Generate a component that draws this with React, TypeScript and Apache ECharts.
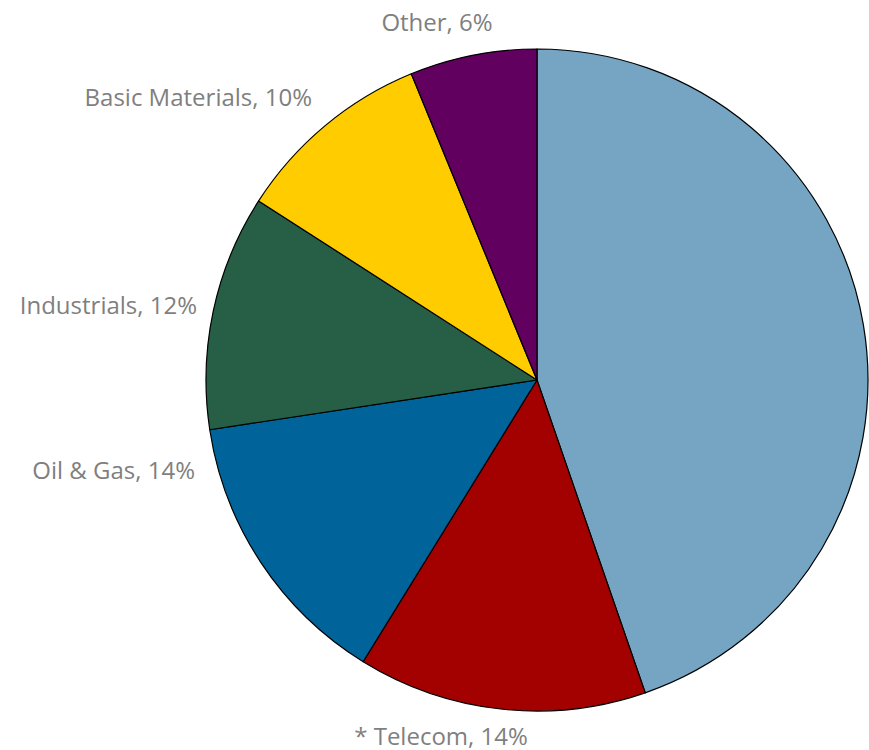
import React, { useEffect, useRef } from "react";
import * as echarts from "echarts";

const categories = ["Financials", "* Telecom", "Oil & Gas", "Industrials", "Basic Materials", "Other"];
const values = [44.7, 14.1, 13.8, 11.5, 9.7, 6.2];
const percentLabels = ["45%", "14%", "14%", "12%", "10%", "6%"];
const showLabel = [false, true, true, true, true, true];
const colors = ["#75A5C2", "#A30000", "#00639A", "#265F45", "#FFCC00", "#620060"];
// label anchor positions (layout only)
const labelPos: Array<[number, number, "left" | "center" | "right"]> = [
  [900, 380, "left"],
  [441, 735, "center"],
  [195, 469, "right"],
  [197, 304, "right"],
  [312, 96, "right"],
  [437, 21, "center"],
];

export default function App() {
  const ref = useRef<HTMLDivElement>(null);
  useEffect(() => {
    if (!ref.current) return;
    const chart = echarts.init(ref.current, undefined, { renderer: "svg" });
    chart.setOption({
      animation: false,
      backgroundColor: "#ffffff",
      series: [
        {
          type: "pie",
          center: [537, 380],
          radius: [0, 331],
          startAngle: 90,
          clockwise: true,
          avoidLabelOverlap: false,
          itemStyle: { borderColor: "#000000", borderWidth: 1.2 },
          labelLine: { show: false },
          label: {
            show: true,
            position: "outside",
            color: "#7F7F7F",
            fontFamily: "Open Sans",
            fontSize: 24,
            lineHeight: 26,
            formatter: (p: any) => `${categories[p.dataIndex]}, ${percentLabels[p.dataIndex]}`,
          },
          labelLayout: (params: any) => {
            const pos = labelPos[params.dataIndex];
            return { x: pos[0], y: pos[1], align: pos[2], verticalAlign: "middle" };
          },
          data: categories.map((name, i) => ({
            name,
            value: values[i],
            itemStyle: { color: colors[i] },
            label: { show: showLabel[i] },
          })),
        },
      ],
    });
    return () => chart.dispose();
  }, []);
  return (
    <div
      ref={ref}
      style={{ position: "fixed", left: 0, top: 0, width: 869, height: 750 }}
    />
  );
}
